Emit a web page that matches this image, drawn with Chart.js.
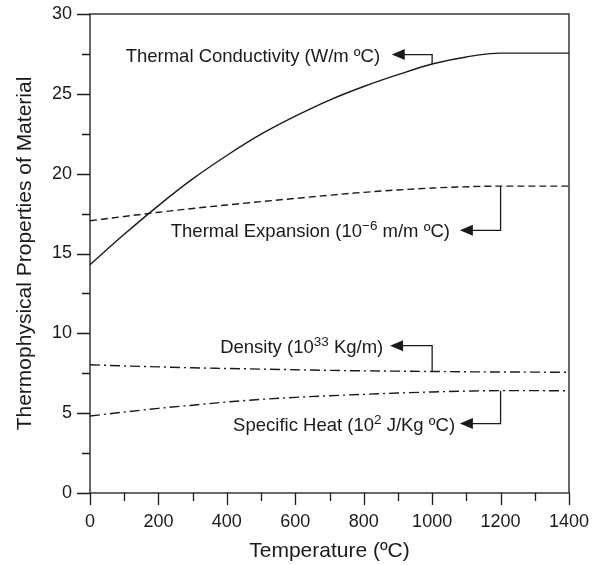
<!DOCTYPE html>
<html>
<head>
<meta charset="utf-8">
<script src="https://cdn.jsdelivr.net/npm/chart.js@4/dist/chart.umd.min.js"></script>
<style>
  body { margin: 0; background: #fff; }
  canvas { display: block; }
</style>
</head>
<body>
<canvas id="propChart" width="601" height="565"></canvas>
<script>
const temps = [0, 100, 200, 300, 400, 500, 600, 700, 800, 900, 1000, 1100, 1200, 1300, 1400];
const conductivity = [14.3, 16.2, 18.0, 19.67, 21.14, 22.47, 23.6, 24.61, 25.46, 26.2, 26.87, 27.31, 27.55, 27.55, 27.55];
const expansion = [17.05, 17.32, 17.58, 17.82, 18.04, 18.25, 18.45, 18.65, 18.83, 18.98, 19.1, 19.18, 19.22, 19.22, 19.22];
const density = [8.03, 7.96, 7.9, 7.84, 7.8, 7.76, 7.72, 7.68, 7.65, 7.63, 7.61, 7.59, 7.58, 7.57, 7.56];
const specificHeat = [4.82, 5.07, 5.3, 5.5, 5.7, 5.86, 5.99, 6.09, 6.18, 6.26, 6.33, 6.38, 6.41, 6.41, 6.4];

const xTickLabels = [0, 200, 400, 600, 800, 1000, 1200, 1400];
const xMinorTicks = [100, 300, 500, 700, 900, 1100, 1300];
const yTickLabels = [0, 5, 10, 15, 20, 25, 30];
const yMinorTicks = [2.5, 7.5, 12.5, 17.5, 22.5, 27.5];

const FONT = '"Liberation Sans", Arial, Helvetica, sans-serif';
const INK = '#1a1a1a';

// callout labels: text pieces, which series the leader goes to, and where (data units)
const callouts = [
  { parts: [['Thermal Conductivity (W/m ºC)']], data: conductivity, textEnd: 848, tip: 882, elbow: 1000, y: 27.46 },
  { parts: [['Thermal Expansion (10'], ['−6', true], [' m/m ºC)']], data: expansion, textEnd: 1052, tip: 1081, elbow: 1200, y: 16.45 },
  { parts: [['Density (10'], ['33', true], [' Kg/m)']], data: density, textEnd: 857, tip: 877, elbow: 1000, y: 9.23 },
  { parts: [['Specific Heat (10'], ['2', true], [' J/Kg ºC)']], data: specificHeat, textEnd: 1067, tip: 1081, elbow: 1200, y: 4.35 }
];

function series(values) {
  return temps.map((t, i) => ({ x: t, y: values[i] }));
}

const frameAndCallouts = {
  id: 'frameAndCallouts',
  afterDatasetsDraw(chart) {
    const { ctx, chartArea: a, scales: { x, y } } = chart;
    ctx.save();
    ctx.strokeStyle = INK;
    ctx.lineWidth = 1.3;
    ctx.strokeRect(a.left, a.top, a.right - a.left, a.bottom - a.top);

    ctx.beginPath();
    xTickLabels.concat(xMinorTicks).forEach(v => {
      const px = Math.round(x.getPixelForValue(v)) + 0.5;
      const len = xTickLabels.includes(v) ? 12 : 8;
      ctx.moveTo(px, a.bottom);
      ctx.lineTo(px, a.bottom + len);
    });
    yTickLabels.concat(yMinorTicks).forEach(v => {
      const py = Math.round(y.getPixelForValue(v)) + 0.5;
      const len = yTickLabels.includes(v) ? 13 : 8;
      ctx.moveTo(a.left, py);
      ctx.lineTo(a.left - len, py);
    });
    ctx.stroke();

    callouts.forEach(c => {
      const py = y.getPixelForValue(c.y);
      const tipX = x.getPixelForValue(c.tip);
      const elbowX = x.getPixelForValue(c.elbow);
      const curveY = y.getPixelForValue(c.data[temps.indexOf(c.elbow)]);

      ctx.beginPath();
      ctx.lineWidth = 1.3;
      ctx.moveTo(tipX + 10, py);
      ctx.lineTo(elbowX, py);
      ctx.lineTo(elbowX, curveY);
      ctx.stroke();

      ctx.fillStyle = INK;
      ctx.beginPath();
      ctx.moveTo(tipX, py);
      ctx.lineTo(tipX + 13, py - 5.5);
      ctx.lineTo(tipX + 13, py + 5.5);
      ctx.closePath();
      ctx.fill();

      const widths = c.parts.map(p => {
        ctx.font = (p[1] ? '13.5px ' : '18.5px ') + FONT;
        return ctx.measureText(p[0]).width;
      });
      let tx = x.getPixelForValue(c.textEnd) - widths.reduce((s, w) => s + w, 0);
      ctx.textBaseline = 'alphabetic';
      ctx.textAlign = 'left';
      c.parts.forEach((p, i) => {
        ctx.font = (p[1] ? '13.5px ' : '18.5px ') + FONT;
        ctx.fillText(p[0], tx, py + 7 - (p[1] ? 7 : 0));
        tx += widths[i];
      });
    });
    ctx.restore();
  }
};

const lineStyle = { borderColor: INK, borderWidth: 1.4, pointRadius: 0, fill: false, cubicInterpolationMode: 'monotone' };

new Chart(document.getElementById('propChart').getContext('2d'), {
  type: 'line',
  data: {
    datasets: [
      { label: 'Thermal Conductivity', data: series(conductivity), ...lineStyle },
      { label: 'Thermal Expansion', data: series(expansion), ...lineStyle, borderDash: [7, 4] },
      { label: 'Density', data: series(density), ...lineStyle, borderDash: [10, 4, 2, 4] },
      { label: 'Specific Heat', data: series(specificHeat), ...lineStyle, borderDash: [10, 4, 2, 4] }
    ]
  },
  options: {
    responsive: false,
    animation: false,
    layout: { padding: { top: 14, right: 32, left: 0, bottom: 0 } },
    plugins: { legend: { display: false }, tooltip: { enabled: false } },
    scales: {
      x: {
        type: 'linear', min: 0, max: 1400,
        afterBuildTicks: s => { s.ticks = xTickLabels.map(v => ({ value: v })); },
        afterFit: s => { s.height = 72; s.paddingLeft = 0; s.paddingRight = 0; },
        grid: { display: false, drawTicks: false },
        border: { display: false },
        ticks: { color: INK, padding: 18, font: { family: FONT, size: 18 }, maxRotation: 0, callback: v => String(v) },
        title: { display: true, text: 'Temperature (ºC)', color: INK, font: { family: FONT, size: 21 }, padding: { top: 0, bottom: 1 } }
      },
      y: {
        min: 0, max: 30,
        afterBuildTicks: s => { s.ticks = yTickLabels.map(v => ({ value: v })); },
        afterFit: s => { s.width = 90; s.paddingTop = 0; s.paddingBottom = 0; },
        grid: { display: false, drawTicks: false },
        border: { display: false },
        ticks: { color: INK, padding: 18, font: { family: FONT, size: 18 }, callback: v => String(v) },
        title: { display: true, text: 'Thermophysical Properties of Material', color: INK, font: { family: FONT, size: 21 }, padding: { top: 13, bottom: 0 } }
      }
    }
  },
  plugins: [frameAndCallouts]
});
</script>
</body>
</html>
